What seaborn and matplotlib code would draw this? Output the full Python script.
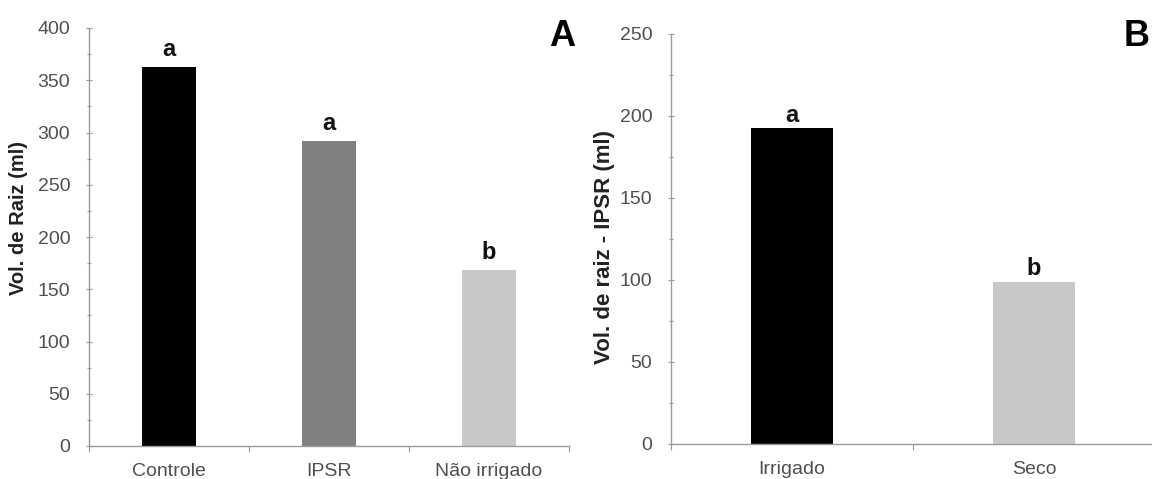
import matplotlib
matplotlib.use("Agg")
import matplotlib.pyplot as plt
from matplotlib.ticker import MultipleLocator, FixedLocator
import seaborn as sns
import pandas as pd

# Panel A: root volume per treatment
cats_a = ["Controle", "IPSR", "Não irrigado"]
vals_a = [363, 292, 168]
letters_a = ["a", "a", "b"]
colors_a = ["#000000", "#808080", "#c8c8c8"]

# Panel B: root volume within IPSR
cats_b = ["Irrigado", "Seco"]
vals_b = [192.5, 99]
letters_b = ["a", "b"]
colors_b = ["#000000", "#c8c8c8"]

sns.set_theme(style="white")
plt.rcParams["font.family"] = ["Liberation Sans", "DejaVu Sans"]

W, H = 1152, 479
fig = plt.figure(figsize=(W / 100, H / 100), dpi=100)
fig.patch.set_facecolor("white")


def px_axes(x0, x1, ytop, ybot):
    return fig.add_axes([x0 / W, (H - ybot) / H, (x1 - x0) / W, (ybot - ytop) / H])


ax_a = px_axes(89, 569, 28, 446)
ax_b = px_axes(671, 1155, 34, 444)

tick_color = "#505050"
spine_color = "#9a9a9a"


def draw_panel(ax, cats, vals, colors, letters, ymax, ylabel, label_size,
               label_xy, gap_pt):
    df = pd.DataFrame({"cat": cats, "val": vals})
    sns.barplot(data=df, x="cat", y="val", hue="cat", palette=colors,
                width=0.335, saturation=1, legend=False, ax=ax, linewidth=0)
    ax.set_xlim(-0.5, len(cats) - 0.5)
    ax.set_ylim(0, ymax)
    ax.set_xlabel("")
    ax.set_ylabel(ylabel, fontsize=label_size, fontweight="bold", color="#222222")
    ax.yaxis.set_label_coords(*label_xy)
    for s in ("top", "right"):
        ax.spines[s].set_visible(False)
    for s in ("left", "bottom"):
        ax.spines[s].set_color(spine_color)
        ax.spines[s].set_linewidth(1.0)
    ax.yaxis.set_major_locator(MultipleLocator(50))
    ax.yaxis.set_minor_locator(MultipleLocator(25))
    ax.xaxis.set_minor_locator(FixedLocator([i - 0.5 for i in range(len(cats) + 1)]))
    ax.tick_params(axis="y", which="major", direction="inout", length=5, width=0.8,
                   color=spine_color, labelsize=14, labelcolor=tick_color, pad=11,
                   left=True)
    ax.tick_params(axis="y", which="minor", direction="inout", length=3, width=0.8,
                   color=spine_color, left=True)
    ax.tick_params(axis="x", which="major", length=0, labelsize=14,
                   labelcolor=tick_color, pad=12)
    ax.tick_params(axis="x", which="minor", direction="out", length=4, width=0.8,
                   color=spine_color, bottom=True)
    for i, (v, t) in enumerate(zip(vals, letters)):
        ax.annotate(t, (i, v), xytext=(0, gap_pt), textcoords="offset points",
                    ha="center", va="baseline", fontsize=17, fontweight="bold",
                    color="#111111")
    ax.grid(False)
    ax.set_facecolor("white")


draw_panel(ax_a, cats_a, vals_a, colors_a, letters_a, 400, "Vol. de Raiz (ml)",
           14.5, (-0.128, 0.545), 8)
draw_panel(ax_b, cats_b, vals_b, colors_b, letters_b, 250, "Vol. de raiz - IPSR (ml)",
           16, (-0.115, 0.48), 4.5)

fig.text(562 / W, 1 - 36 / H, "A", fontsize=26, fontweight="bold",
         ha="center", va="center", color="black")
fig.text(1124 / W, 1 - 36 / H, "B", fontsize=26, fontweight="bold",
         ha="left", va="center", color="black")

fig.savefig("out.png", dpi=100, facecolor="white")
